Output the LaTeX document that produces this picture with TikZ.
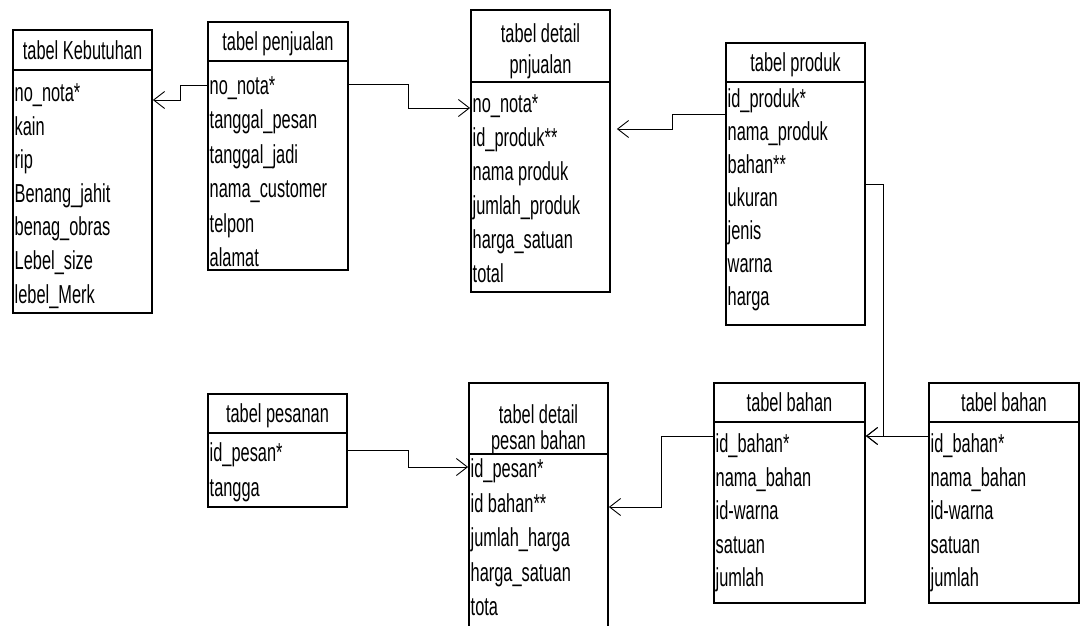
\documentclass[tikz,border=0pt]{standalone}
\usepackage{fontspec}
\setmainfont{Liberation Sans}[FakeStretch=0.63]
\usetikzlibrary{arrows.meta}
\tikzset{
  tbox/.style={draw=black, line width=1.8pt, inner sep=0pt, fill=white},
  sepline/.style={draw=black, line width=1.3pt},
  rowtxt/.style={anchor=west, inner sep=0pt, text height=22pt, text depth=3pt},
  headtxt/.style={anchor=center, inner sep=0pt, text height=22pt, text depth=3pt},
  conn/.style={draw=black, line width=0.9pt, -{Straight Barb[length=11pt,width=17pt,line width=0.9pt]}},
  plain/.style={draw=black, line width=0.9pt}
}
% #1 name, #2 x1, #3 y1, #4 x2, #5 ysep, #6 y2
\newcommand{\mktable}[6]{%
  \node[tbox, minimum width={#4-#2}, minimum height={#6-#3}] (#1) at ({(#2+#4)/2},{(#3+#6)/2}) {};
  \draw[sepline] (#1.west |- 0,#5) -- (#1.east |- 0,#5);
}
\begin{document}
\begin{tikzpicture}[x=1pt,y=-1pt,font=\fontsize{26}{30}\selectfont]
\useasboundingbox (0,0) rectangle (1081,626);
\fill[white] (0,0) rectangle (1081,626);
\clip (0,0) rectangle (1081,626);

% tabel Kebutuhan
\mktable{keb}{13}{30}{152}{70}{313}
\node[headtxt] (keb-h) at (82.5,50) {tabel Kebutuhan};
\foreach \t [count=\i] in {no\_nota*,kain,rip,Benang\_jahit,benag\_obras,Lebel\_size,lebel\_Merk}
  \node[rowtxt] (keb-\i) at (14.5,{92+(\i-1)*33.6}) {\t};

% tabel penjualan
\mktable{penj}{208}{22}{348}{61}{270}
\node[headtxt] (penj-h) at (278,41) {tabel penjualan};
\foreach \t [count=\i] in {no\_nota*,tanggal\_pesan,tanggal\_jadi,nama\_customer,telpon,alamat}
  \node[rowtxt] (penj-\i) at (209.5,{85+(\i-1)*34.4}) {\t};

% tabel detail pnjualan
\mktable{detpj}{471}{10}{610}{82}{292}
\node[headtxt] (detpj-h1) at (540.5,33) {tabel detail};
\node[headtxt] (detpj-h2) at (540.5,64) {pnjualan};
\foreach \t [count=\i] in {no\_nota*,id\_produk**,nama produk,jumlah\_produk,harga\_satuan,total}
  \node[rowtxt] (detpj-\i) at (472.5,{103+(\i-1)*34}) {\t};

% tabel produk
\mktable{prod}{726}{43}{865}{82}{325}
\node[headtxt] (prod-h) at (795.5,62) {tabel produk};
\foreach \t [count=\i] in {id\_produk*,nama\_produk,bahan**,ukuran,jenis,warna,harga}
  \node[rowtxt] (prod-\i) at (727.5,{98+(\i-1)*33}) {\t};

% tabel pesanan
\mktable{pes}{208}{394}{347}{433}{507}
\node[headtxt] (pes-h) at (277.5,413) {tabel pesanan};
\foreach \t [count=\i] in {id\_pesan*,tangga}
  \node[rowtxt] (pes-\i) at (209.5,{452+(\i-1)*35}) {\t};

% tabel detail pesan bahan
\mktable{detpb}{469}{383}{608}{454}{660}
\node[headtxt] (detpb-h1) at (538.5,414) {tabel detail};
\node[headtxt] (detpb-h2) at (538.5,440) {pesan bahan};
\foreach \t [count=\i] in {id\_pesan*,id bahan**,jumlah\_harga,harga\_satuan,tota}
  \node[rowtxt] (detpb-\i) at (470.5,{468+(\i-1)*34.5}) {\t};

% tabel bahan (1)
\mktable{bah1}{714}{383}{865}{422}{603}
\node[headtxt] (bah1-h) at (789.5,402) {tabel bahan};
\foreach \t [count=\i] in {id\_bahan*,nama\_bahan,id-warna,satuan,jumlah}
  \node[rowtxt] (bah1-\i) at (715.5,{443+(\i-1)*33.5}) {\t};

% tabel bahan (2)
\mktable{bah2}{929}{383}{1079}{422}{603}
\node[headtxt] (bah2-h) at (1004,402) {tabel bahan};
\foreach \t [count=\i] in {id\_bahan*,nama\_bahan,id-warna,satuan,jumlah}
  \node[rowtxt] (bah2-\i) at (930.5,{443+(\i-1)*33.5}) {\t};

% connectors
\draw[conn] (penj.west |- 0,85) -- (180,85) |- (keb.east |- 0,100);
\draw[conn] (penj.east |- 0,84) -- (408,84) |- (detpj.west |- 0,108);
\draw[conn, shorten >=6pt] (prod.west |- 0,114) -- (672,114) |- (detpj.east |- 0,129);
\draw[conn] (prod.east |- 0,184) -- (883,184) |- (bah1.east |- 0,436);
\draw[conn] (bah2.west |- 0,436) -- (bah1.east |- 0,436);
\draw[conn] (bah1.west |- 0,436) -- (661,436) |- (detpb.east |- 0,507);
\draw[conn] (pes.east |- 0,450) -- (408,450) |- (detpb.west |- 0,467);
\end{tikzpicture}
\end{document}
